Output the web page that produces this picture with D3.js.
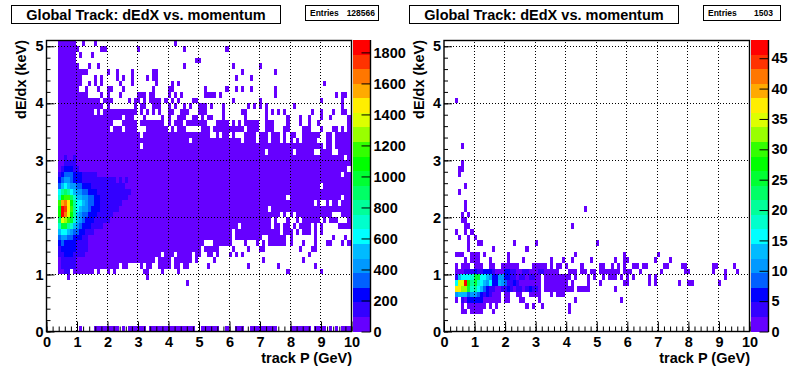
<!DOCTYPE html>
<html>
<head>
<meta charset="utf-8">
<style>
  html, body { margin: 0; padding: 0; background: #fff; }
  svg { display: block; }
  text { font-family: "Liberation Sans", Arial, sans-serif; font-weight: bold; fill: #000; }
  .domain { display: none; }
</style>
<script src="https://cdnjs.cloudflare.com/ajax/libs/d3/7.8.5/d3.min.js"></script>
</head>
<body>
<div id="chart"></div>
<script>
'use strict'

const titleText = 'Global Track: dEdX vs. momentum'
const xLabel = 'track P (GeV)'
const yLabel = 'dE/dx (keV)'
const xTicks = [0, 1, 2, 3, 4, 5, 6, 7, 8, 9, 10]
const yTicks = [0, 1, 2, 3, 4, 5]
const leftEntries = '128566'
const rightEntries = '1503'
const leftZMax = 1880
const rightZMax = 48
const leftZTicks = [0, 200, 400, 600, 800, 1000, 1200, 1400, 1600, 1800]
const rightZTicks = [0, 5, 10, 15, 20, 25, 30, 35, 40, 45]

const palette = ['#6600ff', '#3300ff', '#0000ff', '#0060ff', '#0099ff', '#00bbff', '#00ffff', '#00ffcc', '#00ff99', '#00ff66',
  '#00ff33', '#00ff00', '#33ff00', '#99ff00', '#ddff00', '#ffee00', '#ffaa00', '#ff7700', '#ff3300', '#ff0000']

// filled bins per dE/dx row (row = dE/dx * 10), each [first, last] p bin (bin = p * 10)
const leftRuns = {
  0: [[11, 11], [16, 23], [25, 25], [27, 32], [34, 48], [51, 56], [59, 59], [62, 64], [67, 75], [80, 86], [88, 91], [93, 93], [95, 95], [97, 99]],
  8: [[46, 46]],
  9: [[7, 7], [33, 33]],
  10: [[4, 7], [9, 15], [17, 17], [20, 20], [22, 22], [32, 33], [38, 38], [43, 43], [79, 79], [90, 90]],
  11: [[4, 23], [25, 26], [31, 31], [33, 34], [37, 40], [42, 43], [45, 46], [53, 53], [66, 66], [76, 76], [88, 88]],
  12: [[4, 35], [37, 40], [42, 47], [49, 49], [55, 55], [71, 71], [84, 84]],
  13: [[4, 37], [39, 41], [43, 47], [49, 50], [53, 54], [56, 56], [60, 60], [62, 62], [64, 64], [86, 86]],
  14: [[4, 50], [52, 56], [61, 61], [66, 66], [70, 71], [83, 83], [87, 88]],
  15: [[4, 51], [55, 60], [65, 65], [69, 69], [71, 71], [73, 78], [80, 80], [84, 84], [88, 88], [92, 93], [97, 97], [99, 99]],
  16: [[4, 60], [62, 70], [73, 78], [80, 80], [88, 88], [94, 94], [98, 98]],
  17: [[4, 60], [62, 76], [78, 80], [82, 82], [84, 86], [88, 88], [90, 90]],
  18: [[4, 62], [64, 73], [75, 76], [78, 79], [81, 81], [83, 86], [88, 88], [90, 90], [96, 99]],
  19: [[4, 60], [61, 73], [75, 75], [79, 79], [82, 82], [84, 89], [91, 91], [93, 95], [99, 99]],
  20: [[4, 76], [78, 78], [80, 80], [82, 93], [97, 99]],
  21: [[4, 72], [74, 99]],
  22: [[4, 87], [89, 89], [92, 92], [94, 95], [97, 99]],
  23: [[4, 78], [80, 96], [98, 99]],
  24: [[4, 99]],
  25: [[4, 89], [91, 99]],
  26: [[4, 99]],
  27: [[4, 96], [98, 99]],
  28: [[4, 98]],
  29: [[4, 99]],
  30: [[4, 97], [99, 99]],
  31: [[4, 71], [73, 80], [82, 87], [90, 93], [96, 99]],
  32: [[4, 30], [32, 90], [92, 93], [95, 99]],
  33: [[4, 46], [48, 63], [65, 68], [70, 72], [74, 76], [78, 78], [80, 80], [82, 82], [84, 88], [92, 93], [95, 99]],
  34: [[4, 30], [32, 53], [56, 56], [58, 59], [61, 61], [65, 68], [70, 72], [74, 76], [78, 78], [80, 81], [84, 89], [92, 93], [95, 99]],
  35: [[4, 20], [22, 24], [26, 29], [33, 39], [41, 41], [43, 45], [51, 53], [55, 64], [66, 69], [72, 74], [78, 79], [84, 86], [90, 90], [94, 95], [97, 97], [99, 99]],
  36: [[4, 21], [25, 29], [31, 38], [40, 40], [42, 44], [46, 52], [56, 59], [61, 61], [63, 63], [65, 69], [72, 74], [79, 79], [83, 83], [86, 86], [89, 89], [99, 99]],
  37: [[4, 24], [26, 28], [32, 32], [38, 38], [40, 40], [43, 45], [48, 49], [51, 51], [53, 54], [58, 58], [65, 65], [72, 72], [79, 79], [83, 83], [86, 86], [90, 90], [93, 93], [99, 99]],
  38: [[4, 15], [17, 17], [19, 29], [31, 31], [33, 33], [35, 35], [37, 37], [40, 41], [44, 46], [50, 52], [58, 58], [64, 65], [72, 72], [74, 74], [76, 76], [78, 78], [87, 87], [90, 90], [94, 94], [97, 98]],
  39: [[4, 18], [20, 20], [29, 29], [31, 32], [35, 37], [40, 40], [42, 42], [45, 45], [47, 47], [50, 52], [54, 54], [58, 58], [66, 66], [68, 68], [70, 70], [72, 72], [81, 81], [97, 97]],
  40: [[4, 17], [19, 21], [27, 27], [29, 30], [32, 32], [34, 37], [39, 39], [41, 41], [43, 43], [48, 49], [61, 61], [70, 70], [90, 90], [97, 97]],
  41: [[4, 13], [18, 18], [20, 20], [24, 24], [30, 32], [34, 35], [40, 40], [42, 42], [44, 44], [52, 55], [57, 57], [75, 75], [95, 95], [97, 98]],
  42: [[4, 10], [13, 13], [17, 17], [20, 21], [25, 25], [35, 35], [40, 41], [52, 52], [59, 59], [62, 62], [64, 64], [67, 67], [75, 75]],
  43: [[4, 11], [14, 14], [16, 16], [18, 18], [24, 24], [28, 28], [36, 36], [41, 41], [43, 43], [91, 91]],
  44: [[4, 11], [16, 16], [18, 18], [23, 23], [25, 25], [28, 28], [33, 33], [35, 36], [62, 62], [67, 67]],
  45: [[4, 13], [20, 20], [23, 23], [28, 28], [35, 36], [64, 64], [75, 75]],
  46: [[4, 10], [14, 14], [17, 17], [45, 45], [61, 61], [70, 70]],
  47: [[4, 9], [49, 50]],
  48: [[4, 9], [11, 11], [15, 15]],
  49: [[4, 10], [18, 19], [30, 30], [45, 45], [59, 59]],
  50: [[4, 9], [12, 12], [16, 16], [42, 42]]
}

// colour levels (1-20) of the dense part, every row starts at p bin 4
const leftCoreRows = [30, 29, 28, 27, 26, 25, 24, 23, 22, 21, 20, 19, 18, 17, 16, 15, 14, 13, 12, 11, 10]
const leftCoreLevels = [
  [1, 1, 2, 1, 1, 2],
  [1, 1, 2, 2, 2, 2],
  [1, 2, 3, 3, 3, 2, 2],
  [2, 3, 4, 4, 4, 3, 3, 3, 2, 2, 2, 2, 2],
  [3, 4, 5, 5, 4, 3, 3, 3, 2, 2, 2, 2, 2, 2, 2, 2, 2, 2, 2, 1, 2, 1, 2],
  [4, 6, 7, 6, 5, 5, 4, 4, 3, 3, 3, 2, 2, 2, 2, 2, 2, 2, 2, 2, 2, 2],
  [7, 9, 10, 9, 7, 6, 5, 5, 4, 4, 3, 3, 3, 2, 2, 2, 2, 2, 2, 2, 2, 2, 2, 2],
  [8, 12, 13, 13, 10, 8, 6, 6, 5, 5, 4, 4, 3, 3, 2, 2, 2, 2, 2, 2, 2, 2, 2],
  [13, 17, 18, 16, 12, 9, 7, 7, 6, 5, 4, 4, 3, 3, 2, 2, 2, 2, 2, 2, 2],
  [12, 20, 19, 16, 13, 9, 7, 6, 5, 5, 4, 3, 3, 3, 2, 2, 2, 2, 2, 2],
  [12, 20, 18, 15, 12, 9, 6, 5, 4, 4, 3, 3, 3, 2, 2, 2, 2, 2],
  [10, 15, 14, 13, 11, 8, 6, 5, 4, 3, 3, 3, 2, 2, 2, 2, 2],
  [8, 11, 11, 9, 8, 6, 5, 4, 3, 3, 3, 2, 2, 2, 2],
  [6, 7, 7, 6, 5, 4, 4, 3, 3, 2, 2, 2],
  [4, 5, 5, 4, 4, 3, 3, 3, 2, 2],
  [3, 4, 3, 3, 3, 3, 2, 2, 2, 2],
  [2, 3, 3, 3, 3, 3, 2, 2, 2, 2],
  [2, 2, 3, 3, 3, 2, 2, 2, 2],
  [1, 2, 2, 2, 2, 2],
  [1, 2, 2, 2, 2, 2],
  [1, 1, 2, 2, 2, 1]
]

const rightRuns = {
  3: [[6, 7], [9, 12], [16, 16], [41, 41]],
  4: [[6, 6], [8, 13], [15, 15], [17, 17], [27, 27], [29, 29], [32, 32], [41, 41]],
  5: [[4, 4], [6, 18], [20, 21], [25, 26], [31, 31], [43, 43], [58, 58]],
  6: [[4, 18], [20, 21], [24, 25], [28, 31], [35, 35], [37, 39]],
  7: [[4, 31], [33, 42], [44, 47], [56, 56]],
  8: [[4, 31], [33, 40], [42, 42], [47, 47], [51, 51], [59, 60], [67, 67], [69, 69], [77, 77], [80, 81], [90, 90]],
  9: [[4, 31], [33, 41], [43, 43], [47, 47], [49, 49], [52, 52], [54, 56], [58, 58], [60, 60], [62, 62], [67, 67], [69, 69], [92, 92]],
  10: [[4, 37], [41, 43], [45, 46], [48, 49], [51, 57], [59, 61], [64, 64], [71, 71], [79, 80], [88, 88], [92, 92], [96, 96]],
  11: [[4, 4], [6, 8], [10, 12], [15, 16], [19, 24], [29, 33], [35, 35], [37, 38], [40, 40], [45, 45], [51, 52], [55, 55], [57, 57], [59, 59], [62, 63], [65, 66], [72, 73], [78, 79], [88, 89], [95, 95]],
  12: [[7, 7], [9, 11], [15, 15], [21, 21], [26, 26], [35, 35], [39, 39], [42, 42], [48, 48], [56, 56], [59, 60], [69, 69], [74, 74]],
  13: [[4, 6], [9, 11], [13, 13], [21, 21], [43, 43], [59, 59], [70, 70]],
  14: [[8, 8], [16, 16], [27, 27]],
  15: [[8, 8], [11, 12], [23, 23], [30, 30], [50, 50]],
  16: [[5, 5], [8, 8], [10, 10]],
  17: [[4, 4], [7, 7], [9, 9]],
  18: [[7, 8], [42, 42]],
  19: [[6, 7]],
  20: [[6, 6], [8, 8]],
  21: [[7, 7], [46, 46]],
  22: [[7, 7]],
  24: [[5, 5]],
  25: [[7, 7]],
  27: [[5, 5]],
  28: [[5, 6]],
  29: [[6, 6]],
  32: [[6, 6]],
  40: [[4, 4]]
}

const rightCoreRows = [10, 9, 8, 7, 6, 5]
const rightCoreLevels = [
  [1, 1, 1, 2, 2, 2, 3, 2, 2, 3, 3, 3, 2, 1, 1, 1, 3, 3, 2, 2, 1, 1, 2, 2, 1, 1, 1, 2, 2],
  [2, 6, 7, 7, 7, 8, 11, 11, 7, 7, 6, 5, 3, 3, 5, 5, 3, 3, 2, 2, 1, 2, 2, 1, 2, 2],
  [7, 15, 15, 20, 12, 9, 11, 8, 7, 6, 5, 7, 3, 3, 6, 5, 4, 2, 2, 3, 2],
  [16, 16, 14, 14, 11, 8, 9, 7, 6, 4, 3, 2, 2, 1, 1, 2, 2, 3, 2, 1, 2, 2, 1, 2, 3, 2, 2],
  [5, 6, 6, 6, 4, 5, 5, 4, 3, 2, 3, 2],
  [1, 0, 2, 1, 3, 3, 3, 3, 3]
]

function binCells (runs, coreRows, coreLevels, zMax) {
  const cells = new Map()
  const step = zMax / palette.length
  Object.keys(runs).forEach(row => {
    runs[row].forEach(r => {
      d3.range(r[0], r[1] + 1).forEach(col => {
        cells.set(row + '_' + col, { row: +row, col: col, z: step / 2 })
      })
    })
  })
  coreRows.forEach((row, k) => {
    coreLevels[k].forEach((level, n) => {
      const key = row + '_' + (n + 4)
      if (level > 0 && cells.has(key)) cells.get(key).z = (level - 0.5) * step
    })
  })
  return Array.from(cells.values())
}

const svg = d3.select('#chart').append('svg')
  .attr('width', 796)
  .attr('height', 372)

function drawPanel (o) {
  const xScale = d3.scaleLinear().domain([0, 10]).range([o.left, o.right])
  const yScale = d3.scaleLinear().domain([0, 5.11]).range([331.5, 40])
  const zColor = d3.scaleQuantize().domain([0, o.zMax]).range(palette)
  const zScale = d3.scaleLinear().domain([0, o.zMax]).range([331.5, 40])
  const g = svg.append('g')

  // histogram bins
  g.append('g').selectAll('rect')
    .data(binCells(o.runs, o.coreRows, o.coreLevels, o.zMax))
    .join('rect')
    .attr('x', d => Math.floor(xScale(d.col / 10)))
    .attr('width', d => Math.floor(xScale((d.col + 1) / 10)) - Math.floor(xScale(d.col / 10)))
    .attr('y', d => Math.round(yScale((d.row + 1) / 10)))
    .attr('height', d => Math.round(yScale(d.row / 10)) - Math.round(yScale((d.row + 1) / 10)))
    .attr('fill', d => zColor(d.z))
    .attr('shape-rendering', 'crispEdges')

  // dotted grid sits on top of the bins
  const grid = g.append('g')
    .attr('stroke', '#000')
    .attr('stroke-dasharray', '1 2')
    .attr('shape-rendering', 'crispEdges')
  grid.selectAll('line.gx')
    .data(xTicks.slice(1, -1))
    .join('line')
    .attr('class', 'gx')
    .attr('x1', d => Math.floor(xScale(d)) + 0.5)
    .attr('x2', d => Math.floor(xScale(d)) + 0.5)
    .attr('y1', 331)
    .attr('y2', 40)
  grid.selectAll('line.gy')
    .data(yTicks.slice(1))
    .join('line')
    .attr('class', 'gy')
    .attr('x1', o.left)
    .attr('x2', o.right)
    .attr('y1', d => Math.floor(yScale(d)) + 0.5)
    .attr('y2', d => Math.floor(yScale(d)) + 0.5)

  // frame
  g.append('rect')
    .attr('x', o.left + 0.5)
    .attr('y', 40.5)
    .attr('width', o.right - o.left)
    .attr('height', 291)
    .attr('fill', 'none')
    .attr('stroke', '#000')
    .attr('stroke-width', 1.4)

  // minor and major ticks, drawn inside the frame
  const xMinor = d3.axisBottom(xScale).tickValues(d3.range(0, 51).map(d => d / 5)).tickSize(-5).tickFormat('')
  const xMajor = d3.axisBottom(xScale).tickValues(xTicks).tickSize(-10).tickPadding(5).tickFormat(d3.format('d'))
  const yMinor = d3.axisLeft(yScale).tickValues(d3.range(0, 26).map(d => d / 5)).tickSize(-4).tickFormat('')
  const yMajor = d3.axisLeft(yScale).tickValues(yTicks).tickSize(-8).tickPadding(3).tickFormat(d3.format('d'))
  g.append('g').attr('transform', 'translate(0.5,331.5)').call(xMinor)
  g.append('g').attr('transform', 'translate(0.5,331.5)').call(xMajor)
  g.append('g').attr('transform', 'translate(' + (o.left + 0.5) + ',0)').call(yMinor)
  g.append('g').attr('transform', 'translate(' + (o.left + 0.5) + ',0)').call(yMajor)
  g.selectAll('.tick text').style('font-size', '14.5px')

  g.append('text')
    .attr('x', o.right + 1)
    .attr('y', 363)
    .attr('text-anchor', 'end')
    .style('font-size', '14.5px')
    .text(xLabel)
  g.append('text')
    .attr('transform', 'translate(' + (o.left - 20) + ',40) rotate(-90)')
    .attr('text-anchor', 'end')
    .style('font-size', '14.5px')
    .text(yLabel)

  // palette
  const barX = o.right + 2
  const barW = 17
  g.append('g').selectAll('rect')
    .data(palette)
    .join('rect')
    .attr('x', barX)
    .attr('width', barW)
    .attr('y', (d, i) => Math.round(zScale((i + 1) * o.zMax / palette.length)))
    .attr('height', (d, i) => Math.round(zScale(i * o.zMax / palette.length)) - Math.round(zScale((i + 1) * o.zMax / palette.length)))
    .attr('fill', d => d)
    .attr('shape-rendering', 'crispEdges')
  const zAxis = d3.axisRight(zScale).tickValues(o.zTicks).tickSizeInner(-9).tickSizeOuter(0).tickPadding(3).tickFormat(d3.format('d'))
  const zg = g.append('g')
    .attr('transform', 'translate(' + (barX + barW + 0.5) + ',0)')
    .call(zAxis)
  zg.selectAll('.tick text').style('font-size', '14.5px')
  g.append('line')
    .attr('x1', barX + barW + 0.5)
    .attr('x2', barX + barW + 0.5)
    .attr('y1', 40)
    .attr('y2', 332)
    .attr('stroke', '#000')
    .attr('stroke-width', 1.4)

  // title box
  g.append('rect')
    .attr('x', o.titleX + 0.5)
    .attr('y', 5.5)
    .attr('width', 269)
    .attr('height', 18)
    .attr('fill', '#fff')
    .attr('stroke', '#000')
  g.append('text')
    .attr('x', o.titleX + 135)
    .attr('y', 19.5)
    .attr('text-anchor', 'middle')
    .style('font-size', '14.5px')
    .text(titleText)

  // stats box
  g.append('rect')
    .attr('x', o.statX + 0.5)
    .attr('y', 5.5)
    .attr('width', o.statW)
    .attr('height', 15)
    .attr('fill', '#fff')
    .attr('stroke', '#000')
  g.append('text')
    .attr('x', o.statX + 5)
    .attr('y', 16)
    .style('font-size', '8.5px')
    .text('Entries')
  g.append('text')
    .attr('x', o.statX + o.statW - o.statPad)
    .attr('y', 16)
    .attr('text-anchor', 'end')
    .style('font-size', '8.5px')
    .text(o.entries)
}

drawPanel({
  left: 46, right: 351, titleX: 11, statX: 305, statW: 73, statPad: 3,
  runs: leftRuns, coreRows: leftCoreRows, coreLevels: leftCoreLevels,
  zMax: leftZMax, zTicks: leftZTicks, entries: leftEntries
})
drawPanel({
  left: 443.5, right: 749, titleX: 409, statX: 703, statW: 77, statPad: 7,
  runs: rightRuns, coreRows: rightCoreRows, coreLevels: rightCoreLevels,
  zMax: rightZMax, zTicks: rightZTicks, entries: rightEntries
})
</script>
</body>
</html>
